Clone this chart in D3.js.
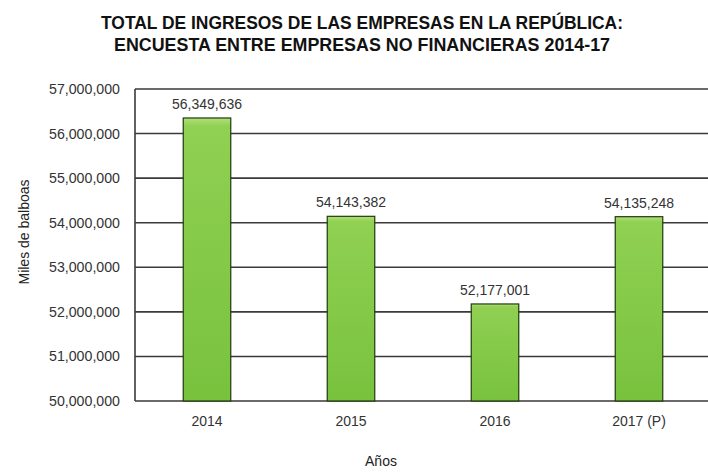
<!DOCTYPE html>
<html>
<head>
<meta charset="utf-8">
<script src="https://cdn.jsdelivr.net/npm/d3@7"></script>
<style>
    body { margin: 0; background: #fff; }
    svg text { font-family: "Liberation Sans", Arial, sans-serif; }
</style>
</head>
<body>
<svg id="chart" width="708" height="472"></svg>
<script>
var years = ["2014", "2015", "2016", "2017 (P)"];
var ingresos = [56349636, 54143382, 52177001, 54135248];
var yTicks = [50000000, 51000000, 52000000, 53000000, 54000000, 55000000, 56000000, 57000000];
var titleLines = ["TOTAL DE INGRESOS DE LAS EMPRESAS EN LA REPÚBLICA:", "ENCUESTA ENTRE EMPRESAS NO FINANCIERAS 2014-17"];
var titleWidths = [522, 496];

var svg = d3.select("#chart");
var plotLeft = 135, plotRight = 711, plotTop = 89, plotBottom = 401;

var x = d3.scaleBand().domain(years).range([plotLeft, plotRight]).paddingInner(0.67).paddingOuter(0.335);
var y = d3.scaleLinear().domain([50000000, 57000000]).range([plotBottom, plotTop]);
var fmt = d3.format(",");

// degradado de las barras
var grad = svg.append("defs").append("linearGradient")
    .attr("id", "barGrad").attr("x1", 0).attr("y1", 0).attr("x2", 0).attr("y2", 1);
grad.append("stop").attr("offset", "0%").attr("stop-color", "#b2df7a");
grad.append("stop").attr("offset", "3%").attr("stop-color", "#90d052");
grad.append("stop").attr("offset", "100%").attr("stop-color", "#78c23e");

// titulo
svg.append("g").selectAll("text").data(titleLines).enter().append("text")
    .attr("x", 362).attr("y", function (d, i) { return 29 + i * 22; })
    .attr("text-anchor", "middle")
    .attr("textLength", function (d, i) { return titleWidths[i]; })
    .attr("lengthAdjust", "spacingAndGlyphs")
    .style("font-weight", "bold").style("font-size", "19px").style("fill", "#111")
    .text(function (d) { return d; });

// lineas de cuadricula
svg.append("g").selectAll("line").data(yTicks).enter().append("line")
    .attr("x1", plotLeft).attr("x2", 708)
    .attr("y1", function (d) { return y(d); })
    .attr("y2", function (d) { return y(d); })
    .style("stroke", "#3a3a3a").style("stroke-width", 1.6);

// eje izquierdo
svg.append("line")
    .attr("x1", plotLeft).attr("x2", plotLeft).attr("y1", plotTop).attr("y2", plotBottom)
    .style("stroke", "#3a3a3a").style("stroke-width", 1.6);

var yAxis = svg.append("g")
    .attr("transform", "translate(" + (plotLeft - 15) + ",0)")
    .call(d3.axisLeft(y).tickValues(yTicks).tickFormat(fmt).tickSize(0).tickPadding(0));
yAxis.select(".domain").remove();
yAxis.selectAll("text").style("font-size", "14px").style("fill", "#333")
    .attr("textLength", 71).attr("lengthAdjust", "spacingAndGlyphs");

// barras
svg.append("g").selectAll("rect").data(ingresos).enter().append("rect")
    .attr("x", function (d, i) { return x(years[i]); })
    .attr("y", function (d) { return y(d); })
    .attr("width", x.bandwidth())
    .attr("height", function (d) { return plotBottom - y(d); })
    .style("fill", "url(#barGrad)")
    .style("stroke", "#1f3a0c").style("stroke-width", 1.2);

// etiquetas de valores
svg.append("g").selectAll("text").data(ingresos).enter().append("text")
    .attr("x", function (d, i) { return x(years[i]) + x.bandwidth() / 2; })
    .attr("y", function (d) { return y(d) - 9; })
    .attr("text-anchor", "middle")
    .style("font-size", "14px").style("fill", "#333")
    .text(function (d) { return fmt(d); });

// eje inferior
var xAxis = svg.append("g")
    .attr("transform", "translate(0," + plotBottom + ")")
    .call(d3.axisBottom(x).tickSize(0).tickPadding(15));
xAxis.select(".domain").remove();
xAxis.selectAll("text").style("font-size", "14px").style("fill", "#333");

// titulos de ejes
svg.append("text")
    .attr("transform", "translate(29,232) rotate(-90)")
    .attr("text-anchor", "middle")
    .style("font-size", "14px").style("fill", "#222")
    .text("Miles de balboas");

svg.append("text")
    .attr("x", 381).attr("y", 466)
    .attr("text-anchor", "middle")
    .style("font-size", "14px").style("fill", "#222")
    .text("Años");
</script>
</body>
</html>
